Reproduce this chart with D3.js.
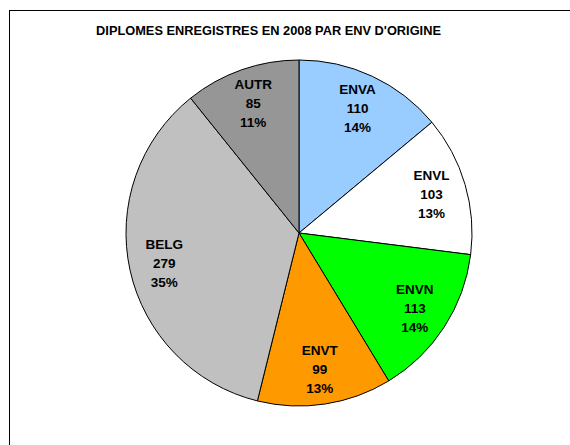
<!DOCTYPE html>
<html>
<head>
<meta charset="utf-8">
<script src="https://cdn.jsdelivr.net/npm/d3@7"></script>
<style>
  body { margin: 0; background: #fff; }
  svg { display: block; font-family: "Liberation Sans", Arial, sans-serif; }
</style>
</head>
<body>
<svg id="chart" width="570" height="445"></svg>
<script>
// Data
const categories = ["ENVA", "ENVL", "ENVN", "ENVT", "BELG", "AUTR"];
const counts = [110, 103, 113, 99, 279, 85];
const colors = ["#99CCFF", "#FFFFFF", "#00FF00", "#FF9900", "#C0C0C0", "#969696"];
const title = "DIPLOMES ENREGISTRES EN 2008 PAR ENV D'ORIGINE";

const svg = d3.select("#chart");

// Chart area frame (runs off the right/bottom edge like the reference)
svg.append("rect")
  .attr("x", 9.5)
  .attr("y", 10.5)
  .attr("width", 600)
  .attr("height", 500)
  .attr("fill", "#fff")
  .attr("stroke", "#000")
  .attr("stroke-width", 1);

// Title
svg.append("text")
  .attr("x", 268.5)
  .attr("y", 35)
  .attr("text-anchor", "middle")
  .attr("font-size", "12.8px")
  .attr("font-weight", "bold")
  .attr("fill", "#000")
  .text(title);

const cx = 299, cy = 233, radius = 173;
const total = d3.sum(counts);

const data = categories.map((c, i) => ({ name: c, value: counts[i], color: colors[i] }));

const pie = d3.pie()
  .value(d => d.value)
  .sort(null);

const arc = d3.arc()
  .innerRadius(0)
  .outerRadius(radius);

const labelArc = d3.arc()
  .innerRadius(138)
  .outerRadius(138);

const g = svg.append("g")
  .attr("transform", `translate(${cx},${cy})`);

// Slices
g.selectAll("path.slice")
  .data(pie(data))
  .enter()
  .append("path")
  .attr("class", "slice")
  .attr("d", arc)
  .attr("fill", d => d.data.color)
  .attr("stroke", "#000")
  .attr("stroke-width", 1);

// Labels: name, value, percentage
const labels = g.selectAll("text.label")
  .data(pie(data))
  .enter()
  .append("text")
  .attr("class", "label")
  .attr("text-anchor", "middle")
  .attr("font-size", "13.5px")
  .attr("font-weight", "bold")
  .attr("fill", "#000")
  .attr("transform", d => {
    const [x, y] = labelArc.centroid(d);
    return `translate(${x},${y})`;
  });

labels.append("tspan").attr("x", 0).attr("y", -14).text(d => d.data.name);
labels.append("tspan").attr("x", 0).attr("y", 5).text(d => d.data.value);
labels.append("tspan").attr("x", 0).attr("y", 24).text(d => Math.round(d.data.value / total * 100) + "%");
</script>
</body>
</html>
